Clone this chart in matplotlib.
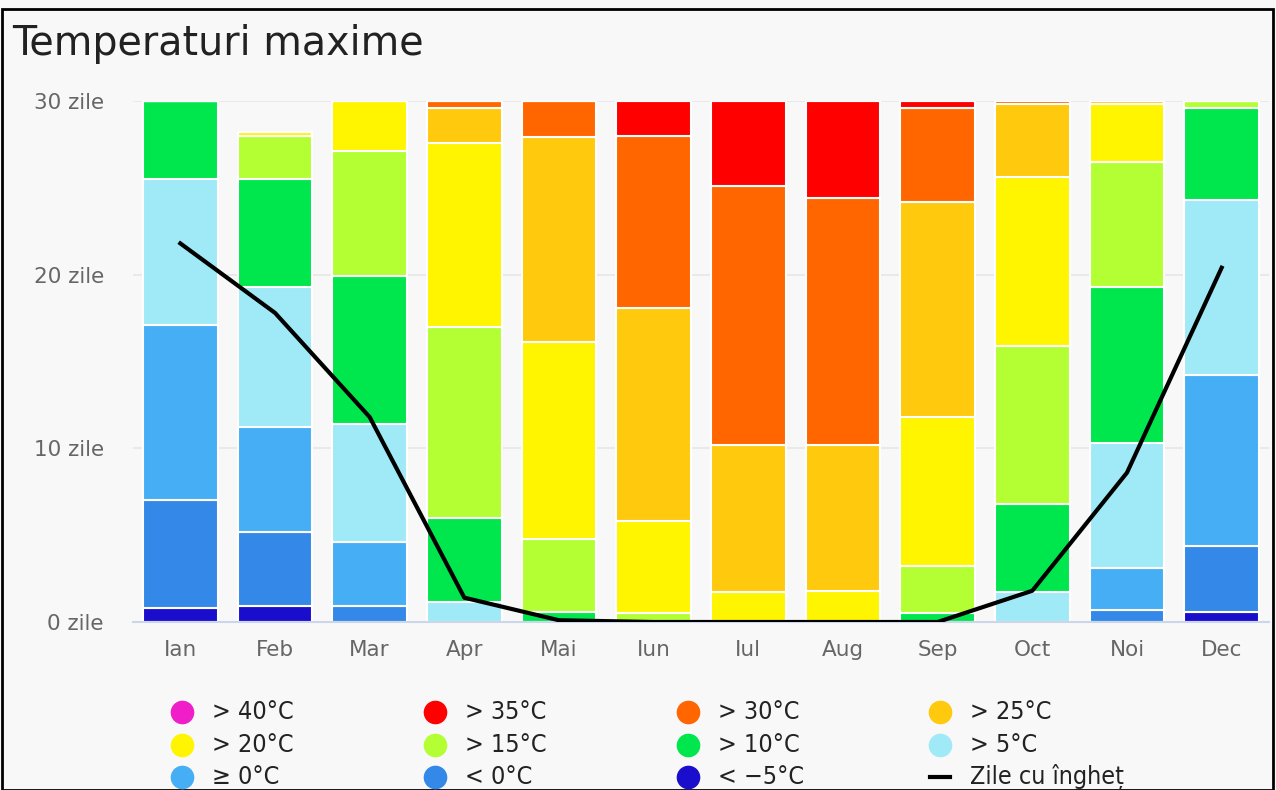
import numpy as np
import matplotlib.pyplot as plt
from matplotlib.lines import Line2D

# luni si categorii
luni = ['Ian', 'Feb', 'Mar', 'Apr', 'Mai', 'Iun', 'Iul', 'Aug', 'Sep', 'Oct', 'Noi', 'Dec']

# zile pe categorie de temperatura maxima
sub_m5 = [0.8, 0.9, 0, 0, 0, 0, 0, 0, 0, 0, 0, 0.6]
sub_0 = [6.2, 4.3, 0.9, 0, 0, 0, 0, 0, 0, 0, 0.7, 3.8]
peste_0 = [10.1, 6.0, 3.7, 0, 0, 0, 0, 0, 0, 0, 2.4, 9.8]
peste_5 = [8.4, 8.1, 6.8, 1.15, 0, 0, 0, 0, 0, 1.7, 7.2, 10.1]
peste_10 = [4.5, 6.2, 8.5, 4.85, 0.6, 0, 0, 0, 0.5, 5.1, 9.0, 5.3]
peste_15 = [0, 2.5, 7.2, 11.0, 4.2, 0.5, 0, 0, 2.7, 9.1, 7.2, 0.4]
peste_20 = [0, 0.2, 2.9, 10.6, 11.3, 5.3, 1.7, 1.8, 8.6, 9.7, 3.3, 0]
peste_25 = [0, 0, 0, 2.0, 11.8, 12.3, 8.5, 8.4, 12.4, 4.2, 0.2, 0]
peste_30 = [0, 0, 0, 0.4, 2.1, 9.9, 14.9, 14.2, 5.4, 0.2, 0, 0]
peste_35 = [0, 0, 0, 0, 0, 2.0, 4.9, 5.6, 0.4, 0, 0, 0]
peste_40 = [0] * 12

zile_inghet = [21.8, 17.8, 11.8, 1.4, 0.1, 0, 0, 0, 0, 1.8, 8.6, 20.4]

serii = [
    ('< -5°C', sub_m5, '#1a0ecc'),
    ('< 0°C', sub_0, '#3388e8'),
    ('≥ 0°C', peste_0, '#46aef5'),
    ('> 5°C', peste_5, '#a0eaf7'),
    ('> 10°C', peste_10, '#00e64d'),
    ('> 15°C', peste_15, '#b4ff33'),
    ('> 20°C', peste_20, '#fff500'),
    ('> 25°C', peste_25, '#ffc90e'),
    ('> 30°C', peste_30, '#ff6600'),
    ('> 35°C', peste_35, '#ff0000'),
    ('> 40°C', peste_40, '#f01ec8'),
]
culori = {nume: cul for nume, val, cul in serii}

fundal = '#f8f8f8'
W, H = 1276, 790
fig = plt.figure(figsize=(W / 100, H / 100), dpi=100, facecolor=fundal)
ax = fig.add_axes([133 / W, 1 - 622 / H, (1269 - 133) / W, (622 - 101) / H])
ax.set_facecolor(fundal)

x = np.arange(len(luni))
baza = np.zeros(len(luni))
for nume, val, cul in serii:
    v = np.array(val, dtype=float)
    ax.bar(x, v, width=0.79, bottom=baza, color=cul, edgecolor='white', linewidth=1.5, zorder=2)
    baza += v

ax.plot(x, zile_inghet, color='black', linewidth=3, zorder=3)

ax.set_xlim(-0.5, 11.5)
ax.set_ylim(0, 30)
ax.set_yticks([0, 10, 20, 30])
ax.set_yticklabels([f'{v} zile' for v in [0, 10, 20, 30]], fontsize=15.5, color='#666666')
ax.set_xticks(x)
ax.set_xticklabels(luni, fontsize=15.5, color='#666666')
ax.tick_params(axis='x', length=0, pad=13)
ax.tick_params(axis='y', length=0, pad=21)
ax.grid(axis='y', color='#e6e6e6', linewidth=1.2, zorder=0)
ax.set_axisbelow(True)
for s in ['top', 'right', 'left']:
    ax.spines[s].set_visible(False)
ax.spines['bottom'].set_color('#ccd6eb')
ax.spines['bottom'].set_linewidth(1.5)

fig.text(12 / W, 1 - 44 / H, 'Temperaturi maxime', fontsize=28.5, color='#222222', va='center')

# chenar negru
fig.patches.append(plt.Rectangle((2 / W, 0), 1271 / W, 1 - 9 / H, transform=fig.transFigure,
                                 fill=False, edgecolor='black', linewidth=2))

# legenda asezata manual, pe randuri
legenda = [['> 40°C', '> 35°C', '> 30°C', '> 25°C'],
           ['> 20°C', '> 15°C', '> 10°C', '> 5°C'],
           ['≥ 0°C', '< 0°C', '< -5°C', 'Zile cu îngheț']]
col_x = [182, 435, 688, 940]
rand_y = [712, 745, 777]
for r, rand in enumerate(legenda):
    for c, nume in enumerate(rand):
        xm, ym = col_x[c] / W, 1 - rand_y[r] / H
        if nume in culori:
            fig.add_artist(Line2D([xm], [ym], marker='o', markersize=16, linestyle='',
                                  markerfacecolor=culori[nume], markeredgecolor=culori[nume],
                                  transform=fig.transFigure))
            text = nume.replace('-', '−')
        else:
            fig.add_artist(Line2D([xm - 10 / W, xm + 10 / W], [ym, ym], color='black', linewidth=3,
                                  transform=fig.transFigure))
            text = nume
        fig.text(xm + 30 / W, ym, text, fontsize=18, va='center', color='#222222',
                 family='DejaVu Sans', stretch='condensed')

fig.savefig('out.png', dpi=100, facecolor=fundal)
